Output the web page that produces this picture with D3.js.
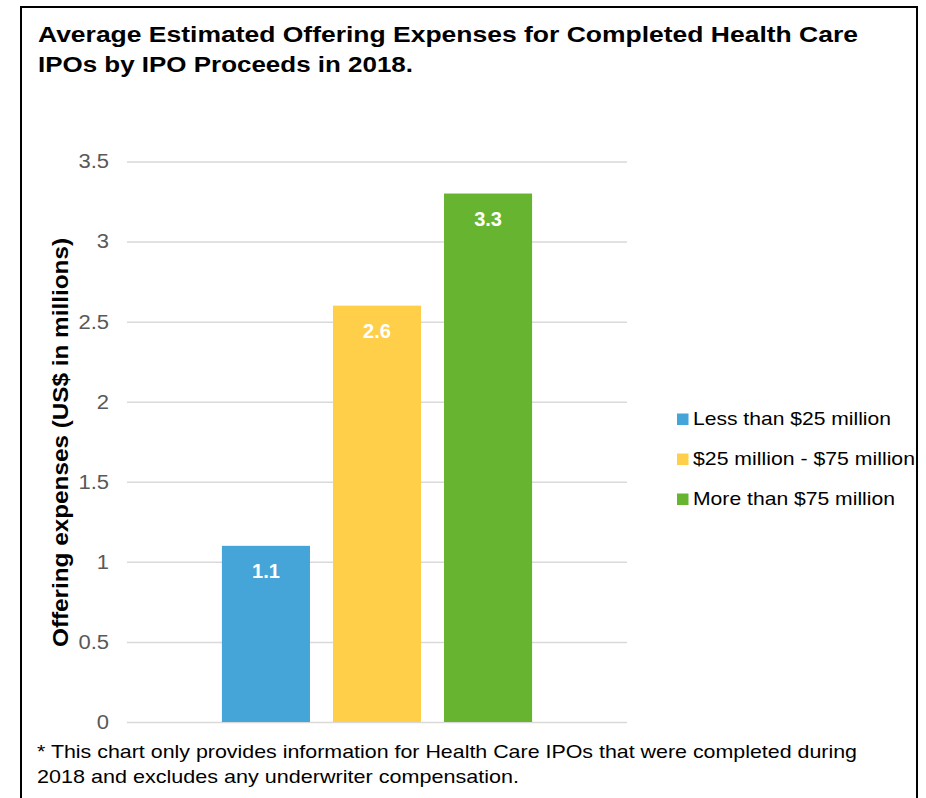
<!DOCTYPE html>
<html>
<head>
<meta charset="utf-8">
<script src="https://cdn.jsdelivr.net/npm/d3@7"></script>
<style>
  html, body { margin: 0; padding: 0; background: #fff; }
  svg { display: block; font-family: "Liberation Sans", Arial, sans-serif; }
</style>
</head>
<body>
<svg id="chart" width="926" height="798"></svg>
<script>
const titleLines = ["Average Estimated Offering Expenses for Completed Health Care", "IPOs by IPO Proceeds in 2018."];
const categories = ["2018"];
const seriesNames = ["Less than $25 million", "$25 million - $75 million", "More than $75 million"];
const seriesValues = [1.1, 2.6, 3.3];
const seriesColors = ["#45A5D8", "#FFCF4A", "#67B430"];
const yTicks = [0, 0.5, 1, 1.5, 2, 2.5, 3, 3.5];
const yLabel = "Offering expenses (US$ in millions)";
const footnoteLines = ["* This chart only provides information for Health Care IPOs that were completed during", "2018 and excludes any underwriter compensation."];

// measured text extents of the reference (px)
const titleLengths = [820, 375];
const legendLengths = [198, 222, 202];
const footnoteLengths = [820, 482];
const stretch = 1.1;

const svg = d3.select("#chart");

// frame
svg.append("path")
  .attr("d", "M21,800 L21,7 L917,7 L917,800")
  .attr("fill", "none").attr("stroke", "#000").attr("stroke-width", 2);

// title
svg.append("g").selectAll("text").data(titleLines).join("text")
  .attr("x", 38).attr("y", (d, i) => 42 + i * 30)
  .attr("font-size", 22.5).attr("font-weight", "bold").attr("fill", "#000")
  .attr("textLength", (d, i) => titleLengths[i]).attr("lengthAdjust", "spacingAndGlyphs")
  .text(d => d);

const plotLeft = 127, plotRight = 627, plotTop = 161.5, plotBottom = 722;

const y = d3.scaleLinear().domain([0, 3.5]).range([plotBottom, plotTop]);
const x0 = d3.scaleBand().domain(categories).range([plotLeft, plotRight]).paddingOuter(0.306);
const x1 = d3.scaleBand().domain(seriesNames).range([0, x0.bandwidth()]).paddingInner(0.207).paddingOuter(0);

// gridlines + tick labels
const yAxis = d3.axisLeft(y).tickValues(yTicks).tickSize(-(plotRight - plotLeft)).tickPadding(18)
  .tickFormat(d => String(d));
const gy = svg.append("g").attr("transform", `translate(${plotLeft},0)`).call(yAxis);
gy.select(".domain").remove();
gy.selectAll(".tick line").attr("stroke", "#d9d9d9").attr("stroke-width", 1.5);
gy.selectAll(".tick text").attr("fill", "#595959").attr("font-size", 20)
  .attr("font-family", "'Liberation Sans', Arial, sans-serif")
  .each(function () {
    const w = this.getComputedTextLength();
    d3.select(this).attr("textLength", w * stretch).attr("lengthAdjust", "spacingAndGlyphs");
  });

// bars
const groups = svg.append("g").selectAll("g").data(categories).join("g")
  .attr("transform", d => `translate(${x0(d)},0)`);
const barData = seriesNames.map((s, i) => ({ s, v: seriesValues[i], c: seriesColors[i], L: legendLengths[i] }));
groups.selectAll("rect").data(barData).join("rect")
  .attr("x", d => x1(d.s)).attr("width", x1.bandwidth())
  .attr("y", d => y(d.v)).attr("height", d => y(0) - y(d.v))
  .attr("fill", d => d.c);
groups.selectAll("text").data(barData).join("text")
  .attr("x", d => x1(d.s) + x1.bandwidth() / 2).attr("y", d => y(d.v) + 32)
  .attr("text-anchor", "middle").attr("fill", "#fff").attr("font-weight", "bold").attr("font-size", 20)
  .text(d => d.v);

// y label
svg.append("text")
  .attr("transform", `translate(68,442.5) rotate(-90)`)
  .attr("text-anchor", "middle").attr("font-weight", "bold").attr("font-size", 22.5).attr("fill", "#000")
  .attr("textLength", 409).attr("lengthAdjust", "spacingAndGlyphs")
  .text(yLabel);

// legend
const lg = svg.append("g").selectAll("g").data(barData).join("g")
  .attr("transform", (d, i) => `translate(677,${418 + i * 40})`);
lg.append("rect").attr("x", 0).attr("y", -4.5).attr("width", 11.5).attr("height", 11.5).attr("fill", d => d.c);
lg.append("text").attr("x", 16).attr("y", 7).attr("font-size", 19).attr("fill", "#000")
  .attr("textLength", d => d.L).attr("lengthAdjust", "spacingAndGlyphs")
  .text(d => d.s);

// footnote
svg.append("g").selectAll("text").data(footnoteLines).join("text")
  .attr("x", 37).attr("y", (d, i) => 758 + i * 25)
  .attr("font-size", 19).attr("fill", "#000")
  .attr("textLength", (d, i) => footnoteLengths[i]).attr("lengthAdjust", "spacingAndGlyphs")
  .text(d => d);
</script>
</body>
</html>
